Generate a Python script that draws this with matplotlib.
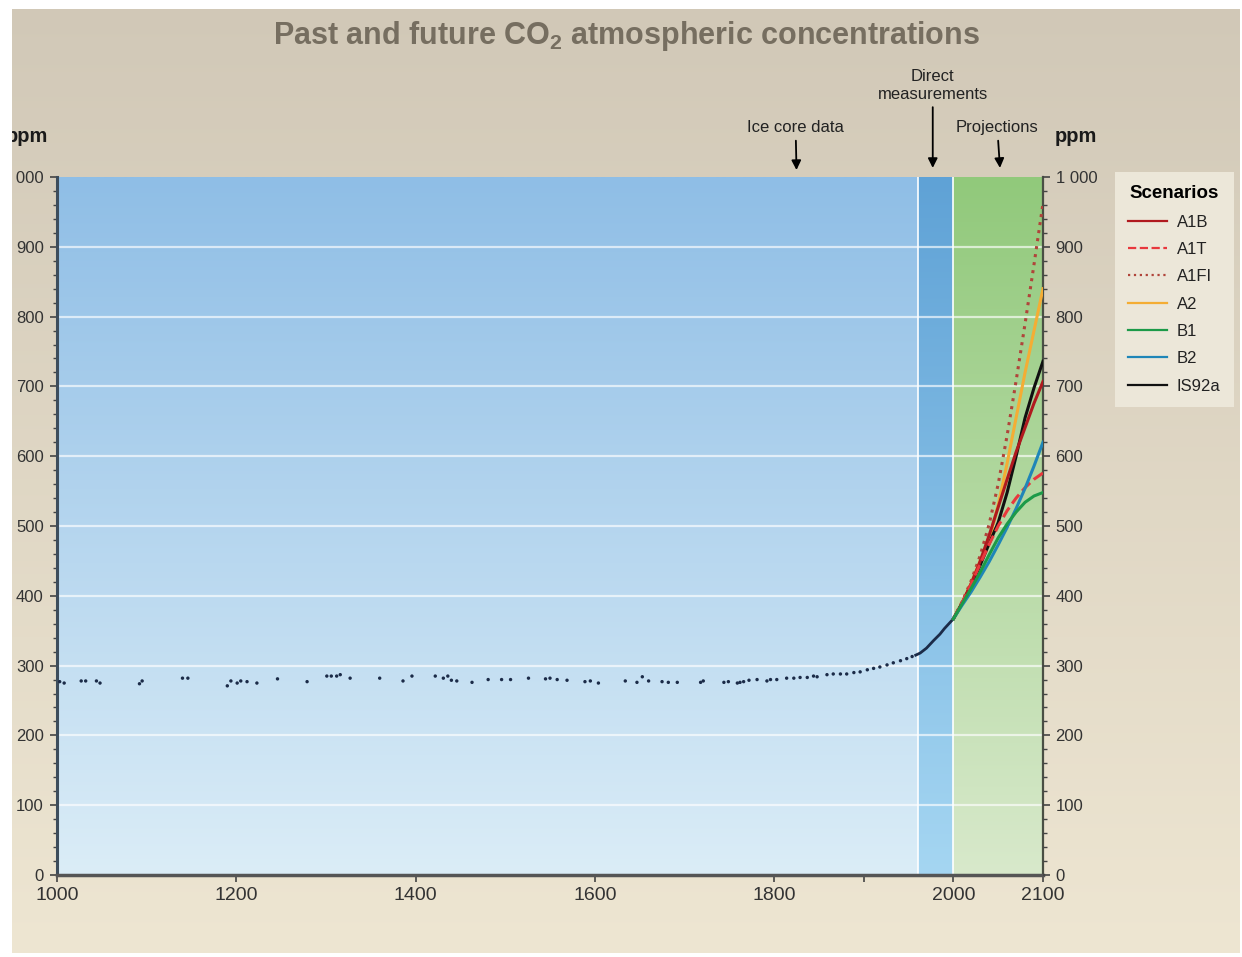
import numpy as np
import matplotlib
matplotlib.use("Agg")
import matplotlib.pyplot as plt
from matplotlib.colors import to_rgb
from matplotlib.patches import Rectangle

plt.rcParams['font.family'] = ['Liberation Sans', 'DejaVu Sans']
plt.rcParams['mathtext.fontset'] = 'custom'
plt.rcParams['mathtext.rm'] = 'Liberation Sans'
plt.rcParams['mathtext.bf'] = 'Liberation Sans:bold'

# ---- data ----
ice_years = [1003, 1008, 1027, 1032, 1044, 1048, 1092, 1095, 1140, 1146,
             1190, 1194, 1201, 1205, 1212, 1223, 1246, 1279, 1301, 1306,
             1312, 1316, 1327, 1360, 1386, 1396, 1422, 1431, 1436, 1440,
             1446, 1463, 1481, 1496, 1506, 1526, 1545, 1550, 1558, 1569,
             1589, 1595, 1604, 1634, 1647, 1653, 1660, 1675, 1682, 1692,
             1718, 1721, 1744, 1749, 1759, 1762, 1766, 1772, 1781, 1792,
             1796, 1803, 1814, 1822, 1829, 1837, 1844, 1848, 1859, 1866,
             1874, 1881, 1889, 1896, 1904, 1911, 1918, 1926, 1933, 1941,
             1948, 1954]
ice_ppm = [277, 275, 278, 278, 278, 275, 274, 278, 282, 282,
           271, 278, 275, 278, 277, 275, 281, 277, 285, 285,
           285, 287, 282, 282, 278, 285, 285, 282, 285, 279,
           278, 276, 280, 280, 280, 282, 281, 282, 280, 279,
           277, 278, 275, 278, 276, 284, 278, 277, 276, 276,
           276, 278, 276, 277, 275, 276, 277, 279, 280, 278,
           280, 280, 282, 282, 283, 283, 285, 284, 287, 288,
           288, 288, 290, 291, 294, 296, 298, 301, 304, 307,
           310, 313]

direct_years = [1958, 1963, 1970, 1978, 1985, 1990, 1995, 2000]
direct_ppm = [315, 318, 325, 336, 345, 353, 360, 367]

proj_years = [2000, 2010, 2020, 2030, 2040, 2050, 2060, 2070, 2080, 2090, 2100]
a1b = [367, 390, 418, 450, 487, 527, 567, 606, 641, 676, 707]
a1t = [367, 391, 417, 446, 474, 500, 522, 540, 555, 567, 576]
a1fi = [367, 392, 422, 458, 503, 560, 630, 708, 790, 875, 962]
a2 = [367, 390, 418, 450, 480, 530, 590, 655, 720, 780, 840]
b1 = [367, 389, 411, 434, 459, 483, 503, 520, 534, 543, 548]
b2 = [367, 387, 406, 427, 449, 473, 498, 525, 554, 586, 620]
is92a = [367, 390, 416, 444, 475, 505, 548, 600, 655, 698, 736]

scenario_names = ['A1B', 'A1T', 'A1FI', 'A2', 'B1', 'B2', 'IS92a']
scenario_values = [a1b, a1t, a1fi, a2, b1, b2, is92a]
scenario_colors = ['#b0191e', '#e8383d', '#b0443a', '#f4ad34', '#1c9a48', '#1f86b8', '#111111']
scenario_styles = ['-', '--', ':', '-', '-', '-', '-']

y_ticks = [0, 100, 200, 300, 400, 500, 600, 700, 800, 900, 1000]
y_tick_labels = ['0', '100', '200', '300', '400', '500', '600', '700', '800', '900', '1 000']
x_ticks = [1000, 1200, 1400, 1600, 1800, 1900, 2000, 2100]
x_tick_labels = ['1000', '1200', '1400', '1600', '1800', '', '2000', '2100']

# ---- figure ----
W, H = 1242, 957
fig = plt.figure(figsize=(W / 100, H / 100), dpi=100)


def vgrad(ax, x0, x1, y0, y1, bottom, top):
    c = np.linspace(to_rgb(bottom), to_rgb(top), 256)[:, None, :]
    ax.imshow(c, extent=(x0, x1, y0, y1), origin='lower', aspect='auto',
              interpolation='bilinear', zorder=0)


bg = fig.add_axes([0, 0, 1, 1], zorder=-5)
vgrad(bg, 0, 1, 0, 1, '#eee6d2', '#d1c8b7')
bg.set_xlim(0, 1)
bg.set_ylim(0, 1)
bg.axis('off')

ax = fig.add_axes([57 / W, 1 - 875 / H, 986 / W, 698 / H])
vgrad(ax, 1000, 1960, 0, 1000, '#dbedf7', '#8fbee6')
vgrad(ax, 1960, 2000, 0, 1000, '#a5d6f2', '#5fa2d6')
vgrad(ax, 2000, 2100, 0, 1000, '#d8e9cb', '#91c97b')

for yv in y_ticks[1:-1]:
    ax.axhline(yv, color='white', lw=1.6, alpha=0.65, zorder=1)
for xv in [1960, 2000]:
    ax.axvline(xv, color='white', lw=1.4, alpha=0.85, zorder=1)

ax.scatter(ice_years, ice_ppm, s=6, color='#1b2b48', edgecolors='none', zorder=4)
ax.plot(direct_years, direct_ppm, color='#1b2b48', lw=2, zorder=4)

lines = {}
for i in [2, 3, 6, 0, 1, 5, 4]:
    ln, = ax.plot(proj_years, scenario_values[i], color=scenario_colors[i],
                  ls=scenario_styles[i], lw=2.2, zorder=5, label=scenario_names[i])
    lines[i] = ln
handles = [lines[i] for i in range(len(scenario_names))]

ax.set_xlim(1000, 2100)
ax.set_ylim(0, 1000)

ax.spines['top'].set_visible(False)
ax.spines['left'].set_color('#3d4d5c')
ax.spines['left'].set_linewidth(2.2)
ax.spines['bottom'].set_color('#555555')
ax.spines['bottom'].set_linewidth(2.5)
ax.spines['right'].set_color('#4a4f44')
ax.spines['right'].set_linewidth(1.6)

ax.set_xticks(x_ticks)
ax.set_xticklabels(x_tick_labels, family=['Liberation Sans Narrow', 'Liberation Sans'],
                   fontsize=14, color='#333333')
ax.tick_params(axis='x', length=5, width=1.2, color='#444444', pad=4)

ax.set_yticks(y_ticks)
ax.set_yticklabels(y_tick_labels, fontsize=12, color='#333333')
ax.set_yticks(np.arange(0, 1001, 20), minor=True)
ax.tick_params(axis='y', which='major', length=5, width=1.2, color='#444444', pad=4.5)
ax.tick_params(axis='y', which='minor', length=3, width=1, color='#444444')

ax2 = ax.twinx()
ax2.set_ylim(0, 1000)
ax2.set_yticks(y_ticks)
ax2.set_yticklabels(y_tick_labels, fontsize=12, color='#333333')
ax2.set_yticks(np.arange(0, 1001, 20), minor=True)
ax2.tick_params(axis='y', which='major', length=5, width=1.2, color='#444444', pad=4)
ax2.tick_params(axis='y', which='minor', length=3, width=1, color='#444444')
for side in ['top', 'left', 'bottom', 'right']:
    ax2.spines[side].set_visible(False)

# annotations above the plot
arrow = dict(arrowstyle='-|>', color='black', lw=1.3, mutation_scale=14,
             shrinkA=2, shrinkB=0)
ax.annotate('Ice core data', xy=(1825, 1.010), xycoords=('data', 'axes fraction'),
            xytext=(1824, 1.060), textcoords=('data', 'axes fraction'),
            ha='center', va='bottom', fontsize=12, color='#222222', arrowprops=arrow)
ax.annotate('Direct\nmeasurements', xy=(1977, 1.013), xycoords=('data', 'axes fraction'),
            xytext=(1977, 1.108), textcoords=('data', 'axes fraction'),
            ha='center', va='bottom', fontsize=12, color='#222222',
            linespacing=1.2, arrowprops=arrow)
ax.annotate('Projections', xy=(2052, 1.013), xycoords=('data', 'axes fraction'),
            xytext=(2049, 1.060), textcoords=('data', 'axes fraction'),
            ha='center', va='bottom', fontsize=12, color='#222222', arrowprops=arrow)

fig.text(626 / W, 1 - 36 / H, r'Past and future CO$_\mathbf{2}$ atmospheric concentrations',
         ha='center', va='center', fontsize=22, fontweight='bold', color='#766e60')
fig.text(48 / W, 1 - 137 / H, 'ppm', ha='right', va='center', fontsize=14.5,
         fontweight='bold', color='#1a1a1a')
fig.text(1055 / W, 1 - 137 / H, 'ppm', ha='left', va='center', fontsize=14.5,
         fontweight='bold', color='#1a1a1a')

leg = fig.legend(handles=handles, loc='upper left',
                 bbox_to_anchor=(1115 / W, 1 - 172 / H), borderaxespad=0,
                 title='Scenarios',
                 title_fontproperties={'weight': 'bold', 'size': 13.5},
                 fontsize=12, handlelength=2.3, labelspacing=0.74, handletextpad=0.6,
                 borderpad=0.8, frameon=True, fancybox=False, framealpha=1)
leg.get_frame().set_facecolor('#ece7d9')
leg.get_frame().set_edgecolor('none')
for t in leg.get_texts():
    t.set_color('#222222')
for ln in leg.get_lines():
    ln.set_linewidth(1.6)

# white margins of the scanned picture
for (x0, y0, w, h) in [(0, 0, 12, H), (0, H - 9, W, 9), (W - 2, 0, 2, H), (0, 0, W, 4)]:
    fig.patches.append(Rectangle((x0 / W, y0 / H), w / W, h / H, transform=fig.transFigure,
                                 facecolor='white', edgecolor='none', zorder=20))

fig.savefig('out.png', dpi=100)
